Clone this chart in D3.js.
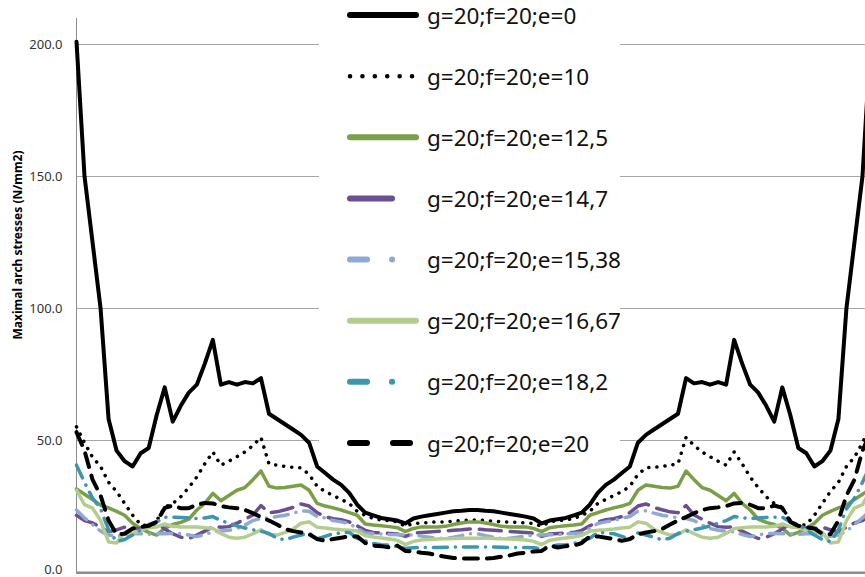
<!DOCTYPE html>
<html>
<head>
<meta charset="utf-8">
<script src="https://cdn.jsdelivr.net/npm/d3@7/dist/d3.min.js"></script>
<style>
  html, body { margin: 0; padding: 0; background: #fff; }
  svg { display: block; }
</style>
</head>
<body>
<svg id="chart" width="865" height="577"></svg>
<script>
// Cross-section index along the arch (100 sections, crown in the middle)
const sections = d3.range(100);

// Maximal arch stresses (N/mm2) per section for each eccentricity e
const stressE0 = [
  201, 150, 125, 100, 58, 46, 42, 40, 45, 47,
  59.5, 70, 57, 63, 68, 71, 79, 88, 71, 72,
  71, 72, 71.5, 73.5, 60, 58, 56, 54, 52, 49,
  40, 37.5, 35, 33, 30, 25.5, 22.5, 21.5, 20.5, 20,
  19.5, 18.4, 20.3, 21, 21.5, 22, 22.5, 23, 23.2, 23.5,
  23.5, 23.2, 23, 22.5, 22, 21.5, 21, 20.3, 18.4, 19.5,
  20, 20.5, 21.5, 22.5, 25.5, 30, 33, 35, 37.5, 40,
  49, 52, 54, 56, 58, 60, 73.5, 71.5, 72, 71,
  72, 71, 88, 79, 71, 68, 63, 57, 70, 59.5,
  47, 45, 40, 42, 46, 58, 100, 125, 150, 201
];
const stressE10 = [
  55, 49, 43.5, 40, 34, 30.5, 26, 21.5, 18, 17.5,
  19.5, 24.5, 26, 28.5, 32, 36, 41, 45.5, 40.5, 42,
  43.7, 45.5, 48, 51, 41, 40.5, 40, 39.7, 39.5, 37,
  32.5, 30.5, 29, 27.5, 26, 23, 21.5, 20.3, 19.7, 19.5,
  19, 17.3, 18.4, 18.6, 18.8, 19, 19, 19.3, 19.5, 19.7,
  19.7, 19.5, 19.3, 19, 19, 18.8, 18.6, 18.4, 17.3, 19,
  19.5, 19.7, 20.3, 21.5, 23, 26, 27.5, 29, 30.5, 32.5,
  37, 39.5, 39.7, 40, 40.5, 41, 51, 48, 45.5, 43.7,
  42, 40.5, 45.5, 41, 36, 32, 28.5, 26, 24.5, 19.5,
  17.5, 18, 21.5, 26, 30.5, 34, 40, 43.5, 49, 55
];
const stressE125 = [
  31.5, 29.5, 27.5, 25.3, 24.3, 23, 21.5, 18.5, 16.5, 15,
  14, 16.5, 18, 18.8, 20, 23.5, 26, 29.8, 27, 29,
  31, 32, 35, 38.3, 32.5, 31.8, 32, 32.5, 33, 31,
  26, 25, 24.3, 23.5, 22.5, 21.5, 18.2, 17.8, 17.5, 17.2,
  16.8, 15.3, 16.5, 17.1, 17.1, 17.1, 17.3, 18, 18.6, 19,
  19, 18.6, 18, 17.3, 17.1, 17.1, 17.1, 16.5, 15.3, 16.8,
  17.2, 17.5, 17.8, 18.2, 21.5, 22.5, 23.5, 24.3, 25, 26,
  31, 33, 32.5, 32, 31.8, 32.5, 38.3, 35, 32, 31,
  29, 27, 29.8, 26, 23.5, 20, 18.8, 18, 16.5, 14,
  15, 16.5, 18.5, 21.5, 23, 24.3, 25.3, 27.5, 29.5, 31.5
];
const stressE147 = [
  21.5, 19.5, 18.6, 17, 15.2, 16, 17, 16.5, 16.5, 17.5,
  18.4, 16.3, 14.5, 13.2, 12.7, 14, 15.5, 17.1, 17, 17.2,
  18.5, 20, 21.6, 25.2, 22.5, 22.8, 23.6, 24.5, 25.8, 25,
  22.5, 21, 20.2, 19.8, 19, 17.5, 15.8, 15, 14.8, 14.6,
  14.4, 13.5, 14.7, 15, 15.2, 15.4, 15.6, 15.8, 16, 16.3,
  16.3, 16, 15.8, 15.6, 15.4, 15.2, 15, 14.7, 13.5, 14.4,
  14.6, 14.8, 15, 15.8, 17.5, 19, 19.8, 20.2, 21, 22.5,
  25, 25.8, 24.5, 23.6, 22.8, 22.5, 25.2, 21.6, 20, 18.5,
  17.2, 17, 17.1, 15.5, 14, 12.7, 13.2, 14.5, 16.3, 18.4,
  17.5, 16.5, 16.5, 17, 16, 15.2, 17, 18.6, 19.5, 21.5
];
const stressE1538 = [
  23.5, 20.5, 18, 15.5, 14, 13.5, 13.8, 14.5, 14.5, 14.3,
  14.5, 14.5, 14.6, 14.6, 14, 13.4, 14.2, 15.2, 15.5, 15.8,
  16.5, 17.8, 19.5, 20.3, 20.5, 21, 21.5, 22.3, 23.2, 23,
  21, 20.5, 19.5, 19, 18.4, 16.5, 14.8, 14.6, 14.4, 14.2,
  14.1, 14, 14, 13.6, 13.2, 12.8, 12.7, 13.2, 13.8, 14.5,
  14.5, 13.8, 13.2, 12.7, 12.8, 13.2, 13.6, 14, 14, 14.1,
  14.2, 14.4, 14.6, 14.8, 16.5, 18.4, 19, 19.5, 20.5, 21,
  23, 23.2, 22.3, 21.5, 21, 20.5, 20.3, 19.5, 17.8, 16.5,
  15.8, 15.5, 15.2, 14.2, 13.4, 14, 14.6, 14.6, 14.5, 14.5,
  14.3, 14.5, 14.5, 13.8, 13.5, 14, 15.5, 18, 20.5, 23.5
];
const stressE1667 = [
  31, 25.5, 24.2, 19.5, 11.4, 11, 15, 14.6, 15.8, 16.8,
  17.1, 18.2, 17.3, 17.1, 17.1, 17.1, 16.8, 16.5, 14.6, 13.2,
  12.8, 13.2, 14.5, 16, 14.2, 14, 15, 16.2, 18.5, 19,
  17, 16.7, 16.3, 16, 15.8, 15.5, 13.8, 13.3, 12.9, 12.5,
  12, 10.4, 11.6, 12.1, 12.3, 12.5, 12.6, 12.7, 12.8, 12.8,
  12.8, 12.8, 12.7, 12.6, 12.5, 12.3, 12.1, 11.6, 10.4, 12,
  12.5, 12.9, 13.3, 13.8, 15.5, 15.8, 16, 16.3, 16.7, 17,
  19, 18.5, 16.2, 15, 14, 14.2, 16, 14.5, 13.2, 12.8,
  13.2, 14.6, 16.5, 16.8, 17.1, 17.1, 17.1, 17.3, 18.2, 17.1,
  16.8, 15.8, 14.6, 15, 11, 11.4, 19.5, 24.2, 25.5, 31
];
const stressE182 = [
  40.5, 34, 28, 24, 16, 11.5, 12.3, 14, 16, 18,
  19, 20.8, 20.8, 20.7, 20.5, 20.3, 20.5, 21, 19.5, 18.5,
  17.5, 16.7, 16, 15.5, 14.6, 12.8, 12.2, 13.2, 14, 14.8,
  12.5, 13.5, 14.5, 14.8, 15, 12.8, 11.8, 10.8, 10.3, 10.2,
  9.6, 8.9, 9.2, 9.3, 9.3, 9.3, 9.4, 9.5, 9.5, 9.5,
  9.5, 9.5, 9.5, 9.4, 9.3, 9.3, 9.3, 9.2, 8.9, 9.6,
  10.2, 10.3, 10.8, 11.8, 12.8, 15, 14.8, 14.5, 13.5, 12.5,
  14.8, 14, 13.2, 12.2, 12.8, 14.6, 15.5, 16, 16.7, 17.5,
  18.5, 19.5, 21, 20.5, 20.3, 20.5, 20.7, 20.8, 20.8, 19,
  18, 16, 14, 12.3, 11.5, 16, 24, 28, 34, 40.5
];
const stressE20 = [
  53, 46, 35, 29, 19.5, 14.3, 14.5, 16.5, 17, 17.5,
  19, 24.3, 25.2, 24.2, 24.2, 25.5, 26.2, 26, 25, 24.5,
  24.2, 23.5, 22.3, 20.8, 19.5, 18, 16.3, 15.5, 15, 14.3,
  12.5, 11.8, 12.5, 13, 13.5, 13.5, 11, 10, 9.8, 9.3,
  10, 8, 7.8, 7.3, 7, 6.3, 5.8, 5.3, 5.1, 5.1,
  5.1, 5.1, 5.3, 5.8, 6.3, 7, 7.3, 7.8, 8, 10,
  9.3, 9.8, 10, 11, 13.5, 13.5, 13, 12.5, 11.8, 12.5,
  14.3, 15, 15.5, 16.3, 18, 19.5, 20.8, 22.3, 23.5, 24.2,
  24.5, 25, 26, 26.2, 25.5, 24.2, 24.2, 25.2, 24.3, 19,
  17.5, 17, 16.5, 14.5, 14.3, 19.5, 29, 35, 46, 53
];

const seriesNames = [
  "g=20;f=20;e=0", "g=20;f=20;e=10", "g=20;f=20;e=12,5", "g=20;f=20;e=14,7",
  "g=20;f=20;e=15,38", "g=20;f=20;e=16,67", "g=20;f=20;e=18,2", "g=20;f=20;e=20"
];
const seriesValues = [stressE0, stressE10, stressE125, stressE147,
                      stressE1538, stressE1667, stressE182, stressE20];
const yTicks = [0, 50, 100, 150, 200];
const yTitle = "Maximal arch stresses (N/mm2)";

// Line styles: colour, width, dash pattern in the plot and in the legend
const styles = [
  { color: "#000000", width: 4,   dash: null,          legendDash: null },
  { color: "#000000", width: 3.5, dash: "0.1 8",       legendDash: "0.1 12.3" },
  { color: "#7a9f47", width: 3.5, dash: null,          legendDash: null },
  { color: "#6a5092", width: 3.5, dash: "22 9",        legendDash: "42 40" },
  { color: "#8fa9d3", width: 3.5, dash: "14 8 0.1 8",  legendDash: "17 25 0.1 40" },
  { color: "#b4cd8e", width: 3.5, dash: null,          legendDash: null },
  { color: "#3c96b0", width: 3.5, dash: "14 8 0.1 8",  legendDash: "17 25 0.1 40" },
  { color: "#000000", width: 4,   dash: "14 9",        legendDash: "17 26" }
];

const svg = d3.select("#chart");
const W = 865, H = 577;
const plot = { left: 76.5, right: 870.5, top: 18, bottom: 572 };

const x = d3.scaleLinear().domain([0, sections.length - 1]).range([plot.left, plot.right]);
const y = d3.scaleLinear().domain([0, 210]).range([plot.bottom, plot.top]);

// Horizontal gridlines
svg.append("g")
  .selectAll("line")
  .data(yTicks.filter(t => t > 0))
  .join("line")
  .attr("x1", plot.left).attr("x2", W)
  .attr("y1", d => Math.round(y(d)) + 0.5).attr("y2", d => Math.round(y(d)) + 0.5)
  .attr("stroke", "#a6a6a6").attr("stroke-width", 1);

// Y axis with tick labels
const yAxis = d3.axisLeft(y).tickValues(yTicks).tickFormat(d3.format(".1f")).tickSize(0).tickPadding(14);
const gy = svg.append("g").attr("transform", `translate(${plot.left},0)`).call(yAxis);
gy.select(".domain").remove();
gy.selectAll("text")
  .attr("font-family", "'Noto Sans', sans-serif")
  .attr("font-size", 13)
  .attr("fill", "#333")
  .attr("dy", d => d === 0 ? "0.1em" : "0.32em");
svg.append("line")
  .attr("x1", plot.left).attr("x2", plot.left)
  .attr("y1", plot.top).attr("y2", plot.bottom)
  .attr("stroke", "#8c8c8c").attr("stroke-width", 1);

// Y axis title
svg.append("text")
  .attr("transform", "translate(22,245) rotate(-90)")
  .attr("text-anchor", "middle")
  .attr("font-family", "'Noto Sans', sans-serif")
  .attr("font-weight", "bold")
  .attr("font-size", 12)
  .attr("fill", "#000")
  .text(yTitle);

// Series lines
const line = d3.line()
  .x((d, i) => x(sections[i]))
  .y(d => y(d));

const gLines = svg.append("g");
seriesValues.forEach((vals, k) => {
  const s = styles[k];
  gLines.append("path")
    .datum(vals)
    .attr("d", line)
    .attr("fill", "none")
    .attr("stroke", s.color)
    .attr("stroke-width", s.width)
    .attr("stroke-linejoin", "round")
    .attr("stroke-linecap", "round")
    .attr("stroke-dasharray", s.dash);
});

// Bottom axis line
svg.append("line")
  .attr("x1", plot.left - 0.5).attr("x2", W)
  .attr("y1", plot.bottom + 0.8).attr("y2", plot.bottom + 0.8)
  .attr("stroke", "#8c8c8c").attr("stroke-width", 2.5);

// Legend panel
const legend = svg.append("g");
legend.append("rect")
  .attr("x", 319).attr("y", 0).attr("width", 301).attr("height", 466)
  .attr("fill", "#fff");

const legendY = d3.scaleLinear().domain([0, seriesNames.length - 1]).range([15, 443]);
seriesNames.forEach((name, k) => {
  const s = styles[k];
  const ly = legendY(k);
  legend.append("line")
    .attr("x1", 350).attr("x2", 416)
    .attr("y1", ly).attr("y2", ly)
    .attr("stroke", s.color)
    .attr("stroke-width", s.dash && s.dash.startsWith("0.1") ? 4.5 : 6)
    .attr("stroke-linecap", "round")
    .attr("stroke-dasharray", s.legendDash);
  legend.append("text")
    .attr("x", 427).attr("y", ly + 2.5)
    .attr("dominant-baseline", "middle")
    .attr("font-family", "'Noto Sans', sans-serif")
    .attr("font-size", 22.5)
    .attr("fill", "#111")
    .text(name);
});
</script>
</body>
</html>
